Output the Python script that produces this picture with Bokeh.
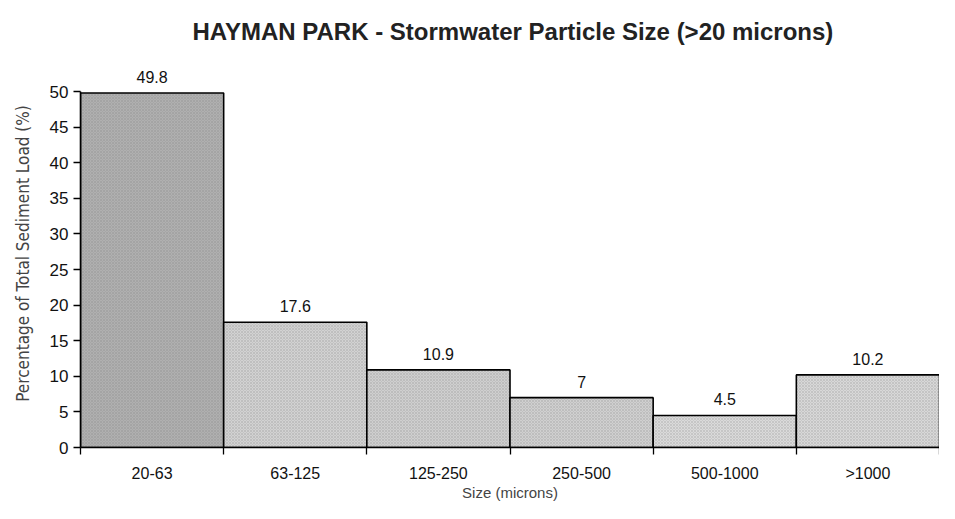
from bokeh.plotting import figure
from bokeh.models import ColumnDataSource, FixedTicker, LabelSet, Range1d
from bokeh.core.properties import value
from bokeh.embed import file_html
from bokeh.resources import INLINE

categories = ["20-63", "63-125", "125-250", "250-500", "500-1000", ">1000"]
values = [49.8, 17.6, 10.9, 7, 4.5, 10.2]
value_labels = ["49.8", "17.6", "10.9", "7", "4.5", "10.2"]
y_ticks = [0, 5, 10, 15, 20, 25, 30, 35, 40, 45, 50]

fill_colors = ["#b0b0b0", "#d2d2d2", "#cfcfcf", "#d0d0d0", "#dadada", "#d8d8d8"]

x_left = list(range(len(categories)))
x_right = [i + 1 for i in x_left]
x_mid = [i + 0.5 for i in x_left]

src = ColumnDataSource(dict(left=x_left, right=x_right, mid=x_mid, top=values,
                            lab=value_labels, color=fill_colors))

p = figure(width=939, height=503, output_backend="svg", toolbar_location=None,
           x_range=Range1d(0, len(categories)), y_range=Range1d(0, 54.5),
           min_border_left=80, min_border_right=0, min_border_top=52, min_border_bottom=50)

p.quad(left="left", right="right", bottom=0, top="top", source=src,
       fill_color="color", line_color="black", line_width=1.6,
       hatch_pattern="x", hatch_scale=3, hatch_color="#777777", hatch_alpha=0.35, hatch_weight=0.6)

labels = LabelSet(x="mid", y="top", text="lab", source=src, text_align="center",
                  text_baseline="bottom", y_offset=10, text_font=value("Liberation Sans"),
                  text_font_size=value("16px"), text_color="#111111")
p.add_layout(labels)

p.title.text = "HAYMAN PARK - Stormwater Particle Size (>20 microns)"
p.title.align = "left"
p.title.text_font = "Liberation Sans"
p.title.text_font_size = "24px"
p.title.text_font_style = "bold"
p.title.text_color = "#222222"
p.title.offset = 112
p.title.standoff = 30

p.xgrid.visible = False
p.ygrid.visible = False
p.outline_line_color = None

# y axis
p.yaxis.ticker = FixedTicker(ticks=y_ticks)
p.yaxis.bounds = (0, 50)
p.yaxis.axis_label = "Percentage of Total Sediment Load (%)"
p.yaxis.axis_label_text_font = "DejaVu Sans Condensed"
p.yaxis.axis_label_text_font_style = "normal"
p.yaxis.axis_label_text_font_size = "17px"
p.yaxis.axis_label_standoff = 14
p.yaxis.major_label_text_font = "Liberation Sans"
p.yaxis.major_label_text_font_size = "17px"
p.yaxis.major_label_text_color = "#111111"
p.yaxis.major_label_standoff = 5
p.yaxis.major_tick_out = 7
p.yaxis.major_tick_in = 0
p.yaxis.minor_tick_out = 0
p.yaxis.minor_tick_in = 0
p.yaxis.axis_line_width = 1.6
p.yaxis.major_tick_line_width = 1.3

# x axis
p.xaxis.ticker = FixedTicker(ticks=x_mid, minor_ticks=list(range(len(categories) + 1)))
p.xaxis.major_label_overrides = {m: c for m, c in zip(x_mid, categories)}
p.xaxis.major_tick_out = 0
p.xaxis.major_tick_in = 0
p.xaxis.minor_tick_out = 7
p.xaxis.minor_tick_in = 0
p.xaxis.minor_tick_line_width = 1.3
p.xaxis.major_label_standoff = 10
p.xaxis.major_label_text_font = "Liberation Sans"
p.xaxis.major_label_text_font_size = "16px"
p.xaxis.major_label_text_color = "#111111"
p.xaxis.axis_label = "Size (microns)"
p.xaxis.axis_label_text_font = "Liberation Sans"
p.xaxis.axis_label_text_font_style = "normal"
p.xaxis.axis_label_text_font_size = "15px"
p.xaxis.axis_label_standoff = -1
p.xaxis.axis_line_width = 1.6

open("out.html", "w").write(file_html(p, INLINE))
